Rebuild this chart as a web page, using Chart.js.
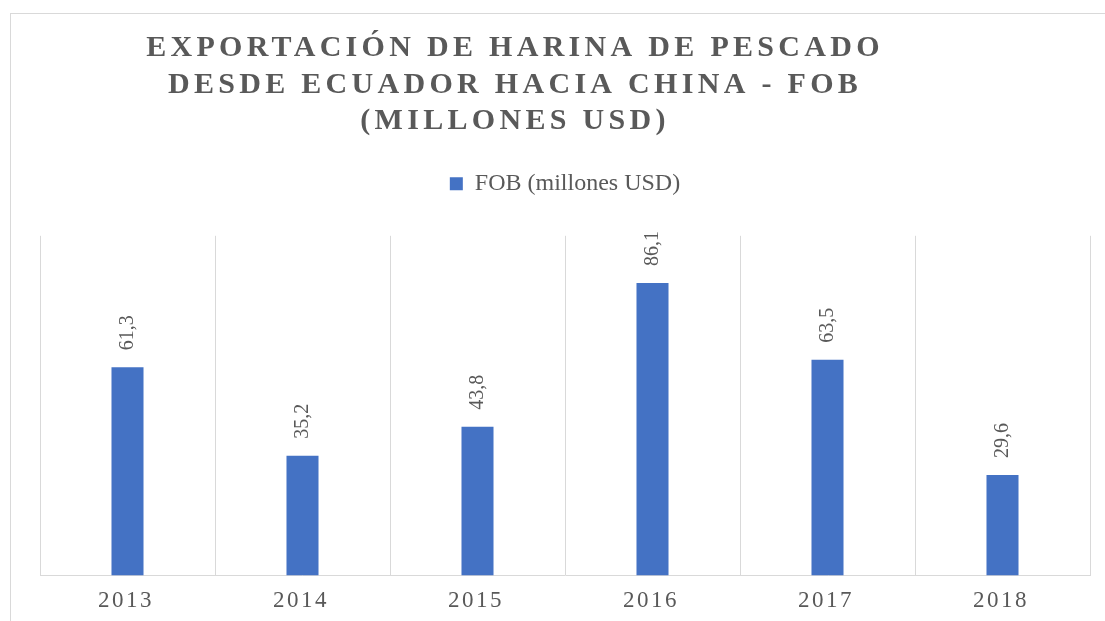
<!DOCTYPE html>
<html>
<head>
<meta charset="utf-8">
<script src="https://cdn.jsdelivr.net/npm/chart.js@4"></script>
<style>
  html, body { margin: 0; padding: 0; background: #fff; overflow: hidden; }
  #frame { position: absolute; left: 10px; top: 13px; width: 1130px; height: 650px; border: 1px solid #d9d9d9; }
  #chart { position: absolute; left: 0; top: 0; }
</style>
</head>
<body>
<div id="frame"></div>
<canvas id="chart" width="1105" height="631"></canvas>
<script>
const titleLines = ['EXPORTACIÓN DE HARINA DE PESCADO', 'DESDE ECUADOR HACIA CHINA - FOB', '(MILLONES USD)'];
const years = ['2013', '2014', '2015', '2016', '2017', '2018'];
const fobValues = [61.3, 35.2, 43.8, 86.1, 63.5, 29.6];
const seriesLabel = 'FOB (millones USD)';

const SERIF = '"Liberation Serif", "Times New Roman", serif';
const GREY = '#595959';

// spaced lettering like the Excel original (title + category labels)
const spacingPlugin = {
    id: 'spacing',
    beforeDraw(chart) {
        const ctx = chart.ctx;
        const t = chart.titleBlock;
        if (t && !t._spaced) {
            const draw = t.draw.bind(t);
            t.draw = function(area) {
                ctx.save();
                ctx.translate(-50, 0); // title sits left of centre in the original
                ctx.letterSpacing = '4.3px';
                draw(area);
                ctx.restore();
            };
            t._spaced = true;
        }
        const x = chart.scales.x;
        if (x && !x._spaced) {
            const drawLabels = x.drawLabels.bind(x);
            x.drawLabels = function(area) {
                ctx.save();
                ctx.translate(-1.5, 0);
                ctx.letterSpacing = '2.5px';
                drawLabels(area);
                ctx.restore();
            };
            x._spaced = true;
        }
    }
};

// vertical value labels above each bar
const barLabels = {
    id: 'barLabels',
    afterDatasetsDraw(chart) {
        const ctx = chart.ctx;
        const meta = chart.getDatasetMeta(0);
        ctx.save();
        ctx.font = '20px ' + SERIF;
        ctx.fillStyle = GREY;
        ctx.textAlign = 'left';
        ctx.textBaseline = 'middle';
        meta.data.forEach((bar, i) => {
            ctx.save();
            ctx.translate(bar.x, bar.y - 17);
            ctx.rotate(-Math.PI / 2);
            ctx.fillText(fobValues[i].toFixed(1).replace('.', ','), 0, 0);
            ctx.restore();
        });
        ctx.restore();
    }
};

new Chart(document.getElementById('chart').getContext('2d'), {
    type: 'bar',
    data: {
        labels: years,
        datasets: [{
            label: seriesLabel,
            data: fobValues,
            backgroundColor: '#4472C4',
            borderWidth: 0,
            barPercentage: 0.183,
            categoryPercentage: 1
        }]
    },
    options: {
        responsive: false,
        animation: false,
        layout: { padding: { left: 40, right: 15, bottom: 4 } },
        plugins: {
            title: {
                display: true,
                text: titleLines,
                color: GREY,
                font: { family: SERIF, size: 30, weight: 'bold', lineHeight: 1.22 },
                padding: { top: 30, bottom: 3 }
            },
            legend: {
                fullSize: false,
                labels: { color: GREY, font: { family: SERIF, size: 24 }, boxWidth: 13, boxHeight: 13, padding: 29 }
            },
            tooltip: { enabled: false }
        },
        scales: {
            x: {
                grid: { color: '#d9d9d9', offset: true, drawTicks: false },
                border: { color: '#d9d9d9' },
                ticks: { color: GREY, font: { family: SERIF, size: 23 }, padding: 12 }
            },
            // empty top axis, only used as a gap between legend and plot
            xGap: {
                position: 'top',
                grid: { display: false },
                border: { display: false },
                ticks: { display: false },
                afterFit(scale) { scale.height = 30; }
            },
            y: { display: false, min: 0, max: 100 }
        }
    },
    plugins: [spacingPlugin, barLabels]
});
</script>
</body>
</html>
